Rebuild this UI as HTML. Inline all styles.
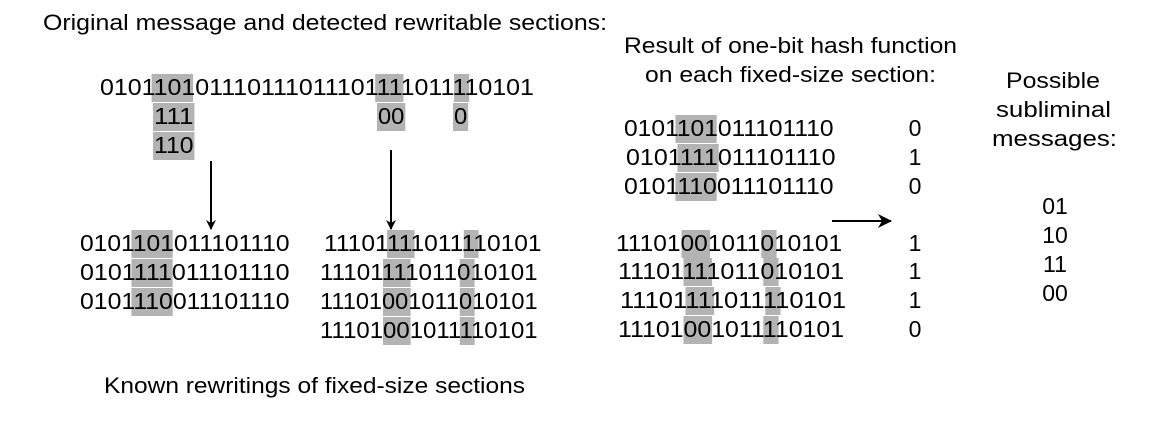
<!DOCTYPE html>
<html><head><meta charset="utf-8">
<style>
html,body{margin:0;padding:0;background:#fff;}
svg{display:block;font-family:"Liberation Sans",Arial,sans-serif;}
</style></head>
<body>
<svg id="d" width="1174" height="424" viewBox="0 0 1174 424" xmlns="http://www.w3.org/2000/svg">
<defs><marker id="ah" markerWidth="10" markerHeight="10" refX="9" refY="5" orient="auto" markerUnits="userSpaceOnUse"><path d="M0,0 L10,5 L0,10 L3,5 Z" fill="#000"/></marker>
<marker id="ah2" markerWidth="14" markerHeight="14" refX="13" refY="7" orient="auto" markerUnits="userSpaceOnUse"><path d="M0,0 L14,7 L0,14 L4,7 Z" fill="#000"/></marker></defs>
<g id="hl"></g>
<g id="tx"></g>
<g font-size="22" fill="#000">
<text x="43" y="30" textLength="564" lengthAdjust="spacingAndGlyphs">Original message and detected rewritable sections:</text>
<text x="624" y="53" textLength="333" lengthAdjust="spacingAndGlyphs">Result of one-bit hash function</text>
<text x="645" y="82" textLength="291" lengthAdjust="spacingAndGlyphs">on each fixed-size section:</text>
<text x="1006" y="88" textLength="94" lengthAdjust="spacingAndGlyphs">Possible</text>
<text x="996" y="117" textLength="115" lengthAdjust="spacingAndGlyphs">subliminal</text>
<text x="992" y="146" textLength="125" lengthAdjust="spacingAndGlyphs">messages:</text>
<text x="104" y="393" textLength="421" lengthAdjust="spacingAndGlyphs">Known rewritings of fixed-size sections</text>
</g>
<line x1="211" y1="161" x2="211" y2="229" stroke="#000" stroke-width="2" marker-end="url(#ah)"/>
<line x1="391" y1="150" x2="391" y2="229" stroke="#000" stroke-width="2" marker-end="url(#ah)"/>
<line x1="832" y1="221" x2="891" y2="221" stroke="#000" stroke-width="2" marker-end="url(#ah2)"/>
</svg>
<script>
// rows: x start, baseline y, char width, string, highlights [start,len]
const rowX = [100,154,378,454,154, 80,80,80, 324,320,320,320, 624,626,624, 616,618,620,618];
const rowY = [95,124,124,124,153, 251,280,309, 251,280,309,338, 136,165,194, 251,279,308,337];
const rowW = [13.15,13.15,13.15,13.15,13.15, 13.1,13.1,13.1, 12.8,12.8,12.8,12.8, 13.1,13.1,13.1, 13.3,13.3,13.3,13.3];
const rowStr = ["010110101110111011101111011110101","111","00","0","110",
 "0101101011101110","0101111011101110","0101110011101110",
 "11101111011110101","11101111011010101","11101001011010101","11101001011110101",
 "0101101011101110","0101111011101110","0101110011101110",
 "11101001011010101","11101111011010101","11101111011110101","11101001011110101"];
const rowHL = [[[4,3],[21,2],[27,1]],[[0,3]],[[0,2]],[[0,1]],[[0,3]],
 [[4,3]],[[4,3]],[[4,3]],
 [[5,2],[11,1]],[[5,2],[11,1]],[[5,2],[11,1]],[[5,2],[11,1]],
 [[4,3]],[[4,3]],[[4,3]],
 [[5,2],[11,1]],[[5,2],[11,1]],[[5,2],[11,1]],[[5,2],[11,1]]];
const hashVals = ["0","1","0","1","1","1","0"];
const hashY = [136,165,194,251,279,308,337];
const messages = ["01","10","11","00"];
const msgY = [214,243,272,301];

const NS="http://www.w3.org/2000/svg";
const hl=document.getElementById('hl'), tx=document.getElementById('tx');
rowStr.forEach((s,r)=>{
  rowHL[r].forEach(h=>{
    const rc=document.createElementNS(NS,'rect');
    rc.setAttribute('x',rowX[r]+h[0]*rowW[r]-1);
    rc.setAttribute('y',rowY[r]-21);
    rc.setAttribute('width',h[1]*rowW[r]+2);
    rc.setAttribute('height',28);
    rc.setAttribute('fill','#b3b3b3');
    
    
    hl.appendChild(rc);
  });
  const t=document.createElementNS(NS,'text');
  t.setAttribute('x',rowX[r]);
  t.setAttribute('y',rowY[r]);
  t.setAttribute('font-size','23');
  t.setAttribute('textLength',(s.length*rowW[r]).toFixed(1));
  t.setAttribute('lengthAdjust','spacingAndGlyphs');
  t.textContent=s;
  
  
  tx.appendChild(t);
});
hashVals.forEach((v,i)=>{
  const t=document.createElementNS(NS,'text');
  t.setAttribute('x',915);t.setAttribute('y',hashY[i]);
  t.setAttribute('font-size','23');t.setAttribute('text-anchor','middle');
  t.textContent=v;
  
  
  tx.appendChild(t);
});
messages.forEach((v,i)=>{
  const t=document.createElementNS(NS,'text');
  t.setAttribute('x',1055);t.setAttribute('y',msgY[i]);
  t.setAttribute('font-size','23');t.setAttribute('text-anchor','middle');
  t.textContent=v;
  
  
  tx.appendChild(t);
});
</script>
</body></html>
